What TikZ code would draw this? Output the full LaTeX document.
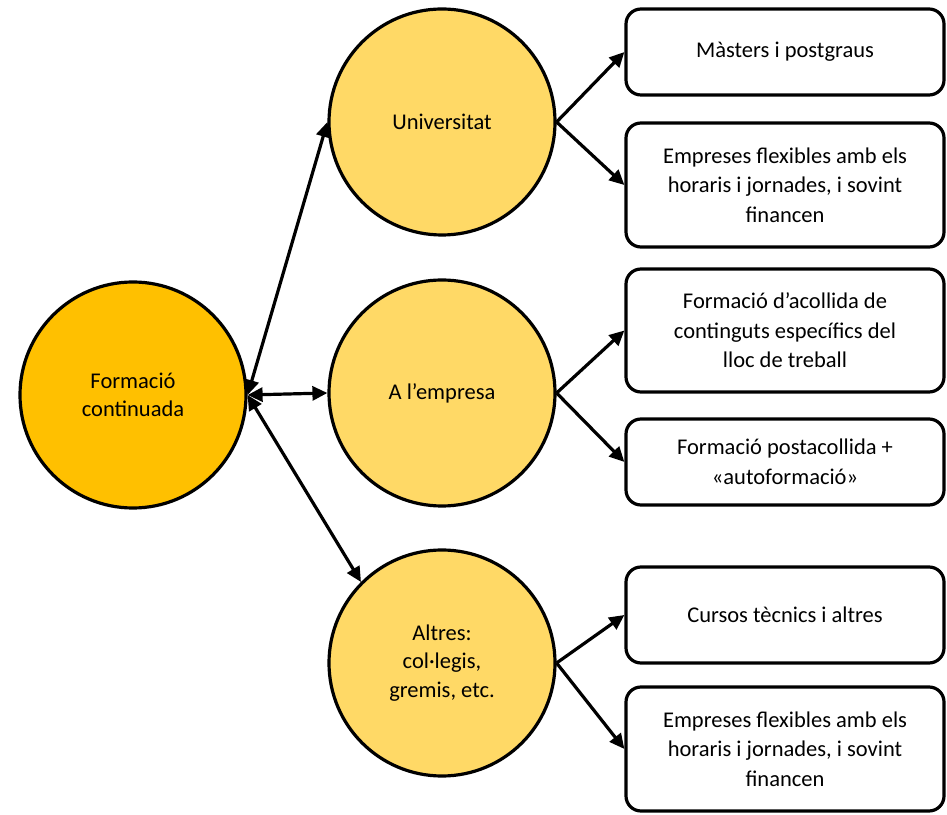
\documentclass[tikz,border=0pt]{standalone}
\usepackage{fontspec}
\setmainfont{Carlito}
\usetikzlibrary{arrows.meta}
\definecolor{gold}{HTML}{FFC000}
\definecolor{lightgold}{HTML}{FFD966}
\begin{document}
\begin{tikzpicture}[x=1pt,y=1pt,
  circ/.style={circle, draw=black, line width=3.2pt, minimum size=226pt, inner sep=0pt, align=center,
    font=\fontsize{22.5}{28.5}\selectfont},
  bigcirc/.style={circ, fill=gold},
  smallcirc/.style={circ, fill=lightgold},
  box/.style={rectangle, rounded corners=15pt, draw=black, line width=3.2pt, minimum width=318pt,
    align=center, inner sep=0pt, font=\fontsize{22.5}{29.5}\selectfont},
  arr/.style={line width=3.2pt, -{Triangle[length=15pt,width=14pt]}},
  darr/.style={line width=3.2pt, {Triangle[length=15pt,width=14pt]}-{Triangle[length=15pt,width=14pt]}}
]
\useasboundingbox (0,0) rectangle (947,814);
\node[bigcirc] (main) at (133,419) {Formació\\continuada};
\node[smallcirc] (uni) at (442,692) {Universitat};
\node[smallcirc] (emp) at (442,421) {A l’empresa};
\node[smallcirc] (alt) at (442,151) {Altres:\\col·legis,\\gremis, etc.};

\node[box, minimum height=86pt] (b1) at (785,762) {Màsters i postgraus};
\node[box, minimum height=124pt] (b2) at (785,629) {Empreses flexibles amb els\\horaris i jornades, i sovint\\financen};
\node[box, minimum height=123pt] (b3) at (785,483.5) {Formació d’acollida de\\continguts específics del\\lloc de treball};
\node[box, minimum height=86pt] (b4) at (785,352) {Formació postacollida +\\«autoformació»};
\node[box, minimum height=96pt] (b5) at (785,199) {Cursos tècnics i altres};
\node[box, minimum height=124pt] (b6) at (785,65) {Empreses flexibles amb els\\horaris i jornades, i sovint\\financen};

\draw[darr] (main.east) -- (uni.west);
\draw[darr] (main.east) -- (emp.west);
\draw[darr] (main.east) -- (alt.135);

\draw[arr] (uni.east) -- (b1.west);
\draw[arr] (uni.east) -- (b2.west);
\draw[arr] (emp.east) -- (b3.west);
\draw[arr] (emp.east) -- (b4.west);
\draw[arr] (alt.east) -- (b5.west);
\draw[arr] (alt.east) -- (b6.west);
\end{tikzpicture}
\end{document}
